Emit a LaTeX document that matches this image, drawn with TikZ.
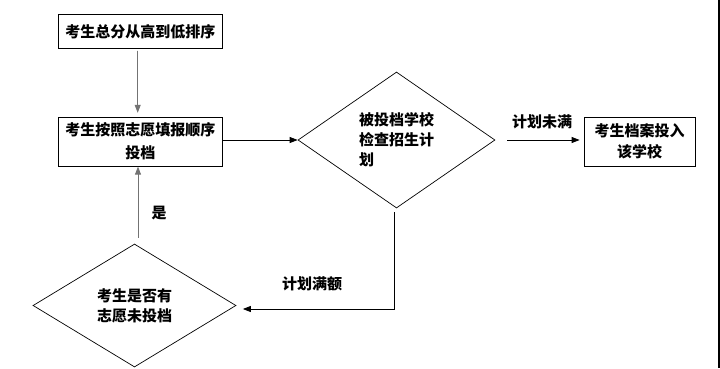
\documentclass[tikz,border=0pt]{standalone}
\usepackage{fontspec}
\setmainfont{Noto Sans CJK SC}
\usetikzlibrary{shapes.geometric,arrows.meta}
\begin{document}
\begin{tikzpicture}[x=1pt,y=-1pt,
  every node/.style={font=\fontsize{15}{20}\selectfont\bfseries, inner sep=0pt},
  procbox/.style={draw, line width=0.8pt, align=center},
  decision/.style={draw, diamond, line width=0.7pt},
  arr/.style={line width=0.8pt, -{Triangle[length=8pt,width=6pt]}},
  grayarr/.style={arr, draw=black!55, fill=black!80},
  plainline/.style={line width=0.8pt}]
\useasboundingbox (0,0) rectangle (720,368);
\node[procbox, minimum width=164pt, minimum height=34pt] (b1) at (140.3,31.3) {考生总分从高到低排序};
\node[procbox, minimum width=164pt, minimum height=49pt, font=\fontsize{15}{23}\selectfont\bfseries] (b2) at (140.3,141.7) {考生按照志愿填报顺序\\投档};
\node[decision, align=left, minimum width=197pt, minimum height=136pt] (d1) at (396.5,140) {被投档学校\\检查招生计\\划};
\node[procbox, minimum width=111pt, minimum height=49pt, font=\fontsize{15}{21}\selectfont\bfseries] (b3) at (639.5,141.7) {考生档案投入\\该学校};
\node[decision, align=center, minimum width=203pt, minimum height=123pt] (d2) at (134.5,305.5) {考生是否有\\志愿未投档};
\node (l1) at (542,122) {计划未满};
\node (l2) at (312,284) {计划满额};
\node (l3) at (159,213) {是};
\coordinate (c1) at (394.7,309);
\draw[grayarr, shorten <=2pt, shorten >=4pt] ([xshift=-2.6pt]b1.south) -- ([xshift=-2.6pt]b2.north);
\draw[arr] ([yshift=1.7pt]b2.east) -- (d1.west);
\draw[arr, shorten <=11.7pt, shorten >=4pt] (d1.east) -- ([yshift=1.7pt]b3.west);
\draw[arr, shorten <=4pt, shorten >=6.5pt] ([xshift=-1.8pt]d1.south) -- (c1) -- (d2.east |- c1);
\draw[grayarr, shorten <=6pt] ([xshift=3.5pt]d2.north) -- ([xshift=-2.3pt]b2.south);
\draw[line width=2pt] (718.5,0) -- (718.5,368);
\end{tikzpicture}
\end{document}
